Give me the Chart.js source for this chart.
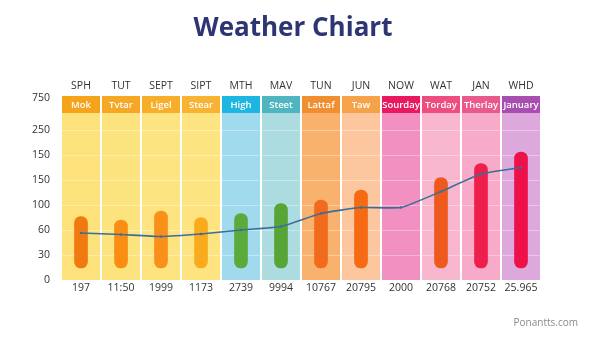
<!DOCTYPE html>
<html>
<head>
<meta charset="utf-8">
<script src="https://cdn.jsdelivr.net/npm/chart.js@4/dist/chart.umd.min.js"></script>
<style>
  html, body { margin: 0; padding: 0; background: #ffffff; }
  #wrap { position: relative; width: 600px; height: 338px; }
  #title { position: absolute; left: 0; width: 586px; top: 8px; text-align: center;
           font: bold 26px "Open Sans", "Noto Sans", sans-serif; color: #2D3672; line-height: 36px; }
  #mark { position: absolute; right: 22px; top: 315px; font: 10px "Open Sans", sans-serif; color: #8a8a8a; }
</style>
</head>
<body>
<div id="wrap">
  <canvas id="c" width="600" height="338"></canvas>
  <div id="title">Weather Chiart</div>
  <div id="mark">Ponantts.com</div>
</div>
<script>
// ---- data ----
const categories = ['SPH','TUT','SEPT','SIPT','MTH','MAV','TUN','JUN','NOW','WAT','JAN','WHD'];
const bottomLabels = ['197','11:50','1999','1173','2739','9994','10767','20795','2000','20768','20752','25.965'];
const headerLabels = ['Mok','Tvtar','Ligel','Stear','High','Steet','Lattaf','Taw','Sourday','Torday','Therlay','January'];
const yTickLabels = ['0','30','60','100','150','150','250','750'];
const yTickValues = [0, 50, 100, 150, 200, 250, 300, 364];
const barLow  = [24, 24, 24, 24, 24, 24, 24, 24, null, 24, 24, 24];
const barHigh = [127, 120, 138, 125, 133, 153, 160, 180, null, 205, 233, 256];
const lineValues = [94, 91, 87, 92, 100, 107, 133, 145, 145, 177, 212, 225];
const bandTop = 334;
const headerTop = 368;

// ---- styles ----
const bandColors = ['#FDE27C','#FDE37E','#FDE480','#FDE480','#A0DAEC','#ACDBE0','#F9B26D','#FCC79E','#F390C2','#F9B7CF','#F8ABC8','#DDA9DD'];
const headerColors = ['#F5A31A','#F6A724','#F7AE2B','#F8B332','#1DB6E1','#4FB6C1','#F08F2F','#F5A24B','#E8195F','#EE4E7F','#E9598B','#A94EB1'];
const barColors = ['#F07A10','#F98E12','#F8901A','#F9AB1D','#5BAA3C','#58A537','#F26A1B','#F56A12','#F56A12','#EE5A1E','#EE1F4B','#EE1048'];

const FONT = '"Open Sans", "Noto Sans", sans-serif';

const gridPlugin = {
  id: 'bandGrid',
  afterDatasetDraw(chart, args) {
    if (args.index !== 2) return;
    const y = chart.scales.y, a = chart.chartArea, ctx = chart.ctx;
    ctx.save();
    ctx.strokeStyle = 'rgba(255,255,255,0.35)';
    ctx.lineWidth = 1;
    [50,100,150,200,250,300].forEach(v => {
      const py = Math.round(y.getPixelForValue(v)) + 0.5;
      ctx.beginPath(); ctx.moveTo(a.left, py); ctx.lineTo(a.right, py); ctx.stroke();
    });
    ctx.restore();
  },
  afterDatasetsDraw(chart) {
    const meta = chart.getDatasetMeta(3);
    const ctx = chart.ctx;
    ctx.save();
    ctx.fillStyle = '#ffffff';
    ctx.font = '600 9.5px ' + FONT;
    ctx.textAlign = 'center';
    ctx.textBaseline = 'middle';
    meta.data.forEach((el, i) => {
      ctx.fillText(headerLabels[i], el.x, (el.y + el.base) / 2 + 0.5);
    });
    ctx.restore();
  }
};

new Chart(document.getElementById('c'), {
  data: {
    labels: bottomLabels,
    datasets: [
      {
        type: 'line',
        data: lineValues,
        borderColor: '#3B6E98',
        borderWidth: 1.6,
        pointRadius: 1.2,
        pointBackgroundColor: '#3B6E98',
        pointBorderWidth: 0,
        tension: 0.15,
        order: 0,
        xAxisID: 'x', yAxisID: 'y'
      },
      {
        type: 'bar',
        data: barHigh.map((h, i) => h == null ? null : [barLow[i], h]),
        backgroundColor: barColors,
        barThickness: 13,
        borderRadius: 7,
        borderSkipped: false,
        grouped: false,
        order: 1,
        xAxisID: 'x', yAxisID: 'y'
      },
      {
        type: 'bar',
        data: categories.map(() => [0, bandTop]),
        backgroundColor: bandColors,
        categoryPercentage: 1,
        barPercentage: 0.95,
        grouped: false,
        order: 3,
        xAxisID: 'x', yAxisID: 'y'
      },
      {
        type: 'bar',
        data: categories.map(() => [bandTop, headerTop]),
        backgroundColor: headerColors,
        categoryPercentage: 1,
        barPercentage: 0.95,
        grouped: false,
        order: 2,
        xAxisID: 'x', yAxisID: 'y'
      }
    ]
  },
  options: {
    responsive: false,
    animation: false,
    layout: { padding: { left: 0, right: 59, top: 50.8, bottom: 0 } },
    plugins: {
      legend: { display: false },
      tooltip: { enabled: false },
      title: { display: false }
    },
    scales: {
      x: {
        type: 'category',
        position: 'bottom',
        offset: true,
        grid: { display: false, drawTicks: false },
        border: { display: false },
        ticks: { color: '#333', font: { family: FONT, size: 10.5 }, padding: 2, maxRotation: 0, autoSkip: false },
        afterFit(s) { s.height = 58; }
      },
      x2: {
        type: 'category',
        position: 'top',
        labels: categories,
        offset: true,
        grid: { display: false, drawTicks: false },
        border: { display: false },
        ticks: { color: '#333', font: { family: FONT, size: 10.5 }, padding: 4, maxRotation: 0, autoSkip: false },
        afterFit(s) { s.height = 45.2; }
      },
      y: {
        type: 'linear',
        min: 0,
        max: headerTop,
        grid: { display: false, drawTicks: false },
        border: { display: false },
        afterBuildTicks(s) { s.ticks = yTickValues.map(v => ({ value: v })); },
        ticks: {
          color: '#333',
          font: { family: FONT, size: 10.5 },
          padding: 11,
          callback: (v, i) => yTickLabels[i]
        },
        afterFit(s) { s.width = 61; }
      }
    }
  },
  plugins: [gridPlugin]
});
</script>
</body>
</html>
